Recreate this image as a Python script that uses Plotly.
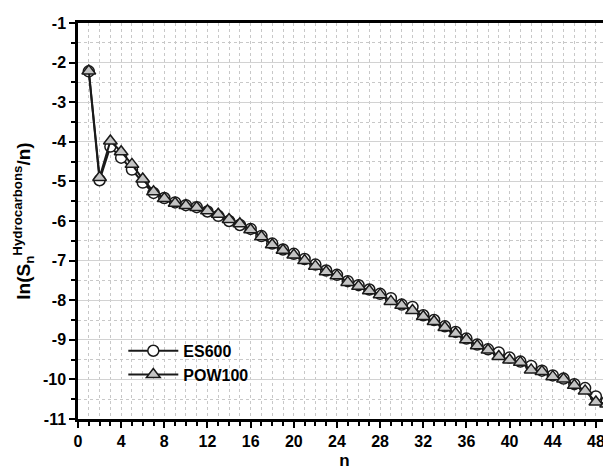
import plotly.graph_objects as go

n = list(range(1, 50))
es600 = [-2.22, -4.97, -4.12, -4.40, -4.70, -5.03, -5.29, -5.42, -5.53, -5.60,
         -5.65, -5.76, -5.87, -6.00, -6.10, -6.20, -6.38, -6.57, -6.72, -6.83,
         -6.96, -7.10, -7.25, -7.36, -7.52, -7.62, -7.73, -7.84, -7.95, -8.11,
         -8.17, -8.38, -8.50, -8.66, -8.80, -8.97, -9.12, -9.24, -9.32, -9.45,
         -9.55, -9.66, -9.78, -9.90, -9.98, -10.12, -10.22, -10.43, -10.56]
pow100 = [-2.21, -4.90, -3.98, -4.25, -4.57, -4.94, -5.26, -5.43, -5.55, -5.61,
          -5.66, -5.74, -5.83, -5.96, -6.07, -6.22, -6.40, -6.60, -6.74, -6.86,
          -7.00, -7.14, -7.28, -7.38, -7.55, -7.65, -7.76, -7.86, -8.03, -8.13,
          -8.26, -8.41, -8.54, -8.69, -8.84, -9.00, -9.15, -9.26, -9.42, -9.51,
          -9.57, -9.76, -9.80, -9.93, -9.99, -10.15, -10.29, -10.57, -10.62]

x_ticks = list(range(0, 49, 4))
y_ticks = list(range(-11, 0))
y_ticklabels = [str(v) for v in y_ticks]

FONT = "Arial, Liberation Sans, sans-serif"

fig = go.Figure()
fig.add_trace(go.Scatter(
    x=n, y=es600, name="<b>ES600</b>", mode="lines+markers",
    line=dict(color="#1a1a1a", width=2),
    marker=dict(symbol="circle", size=11, color="white",
                line=dict(color="#1a1a1a", width=1.5)),
))
fig.add_trace(go.Scatter(
    x=n, y=pow100, name="<b>POW100</b>", mode="lines+markers",
    line=dict(color="#1a1a1a", width=2),
    marker=dict(symbol="triangle-up", size=12, color="#c4c4c4",
                line=dict(color="#1a1a1a", width=1.5)),
))

fig.update_layout(
    width=603, height=464,
    margin=dict(l=70, r=0, t=15, b=53, autoexpand=False),
    paper_bgcolor="white", plot_bgcolor="white",
    font=dict(family=FONT, size=15, color="black"),
    showlegend=True,
    legend=dict(x=0.085, y=0.215, xanchor="left", yanchor="top",
                bgcolor="rgba(255,255,255,0)", borderwidth=0,
                font=dict(family=FONT, size=16, color="black"),
                tracegroupgap=0, itemwidth=50),
)

fig.update_xaxes(
    range=[0, 49.4],
    tickvals=x_ticks,
    ticks="outside", ticklen=6, tickwidth=2, tickcolor="black",
    tickfont=dict(family=FONT, size=16, color="black", weight="bold"),
    showline=True, linecolor="black", linewidth=2.5, mirror=True,
    showgrid=False, zeroline=False,
    minor=dict(dtick=1, ticks="outside", ticklen=4, tickwidth=2, tickcolor="black",
               showgrid=True, gridcolor="#c8c8c8", griddash="3px,3px", gridwidth=1),
    title=dict(text="<b>n</b>", font=dict(family=FONT, size=17, color="black"), standoff=6),
)
fig.update_yaxes(
    range=[-11, -1],
    tickvals=y_ticks, ticktext=y_ticklabels,
    ticks="outside", ticklen=6, tickwidth=2, tickcolor="black",
    tickfont=dict(family=FONT, size=16, color="black", weight="bold"),
    showline=True, linecolor="black", linewidth=2.5, mirror=True,
    showgrid=True, gridcolor="#d2d2d2", gridwidth=1, zeroline=False,
    minor=dict(dtick=0.5, ticks="outside", ticklen=4, tickwidth=2, tickcolor="black",
               showgrid=True, gridcolor="#c8c8c8", griddash="3px,3px", gridwidth=1),
    title=dict(text="<b>ln(S<sub>n</sub><sup>Hydrocarbons</sup>/n)</b>",
               font=dict(family=FONT, size=19, color="black"), standoff=8),
)

fig.write_html("out.html")
